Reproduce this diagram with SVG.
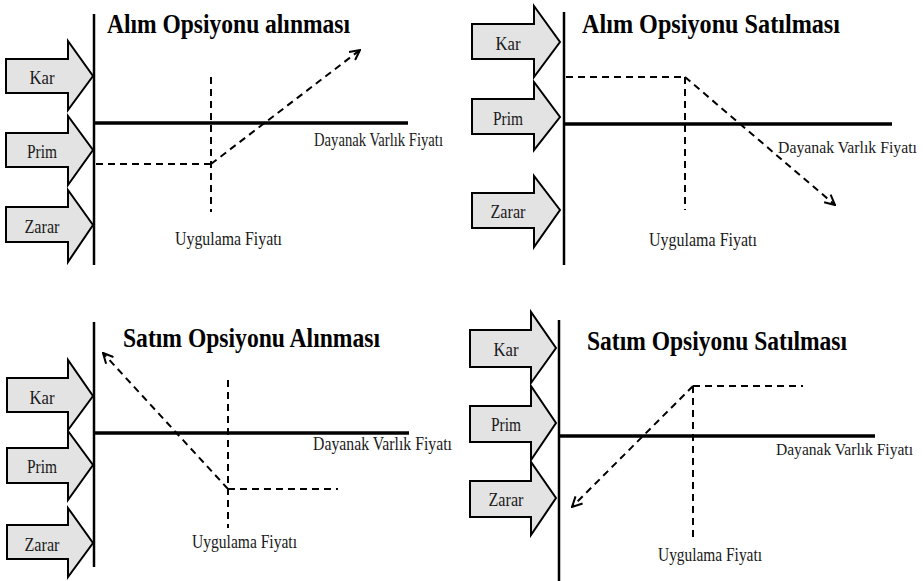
<svg xmlns="http://www.w3.org/2000/svg" width="923" height="581" viewBox="0 0 923 581" font-family="'Liberation Serif', 'DejaVu Serif', serif">
<style>
.bg{fill:#ffffff}
.blk{fill:#e3e3e3;stroke:#000;stroke-width:2;stroke-linejoin:miter}
.lbl{font-family:'Liberation Serif','DejaVu Serif','Times New Roman',serif;font-size:19px;fill:#1a1a1a;text-anchor:middle}
.ttl{font-family:'Liberation Serif','DejaVu Serif','Times New Roman',serif;font-size:27px;font-weight:bold;fill:#000}
.ax{font-family:'Liberation Serif','DejaVu Serif','Times New Roman',serif;font-size:18px;fill:#1a1a1a}
.axr{font-size:16px}
.vax{stroke:#000;stroke-width:2.5;fill:none}
.hax{stroke:#000;stroke-width:3.5;fill:none}
.dash{stroke:#000;stroke-width:2;stroke-dasharray:7 5;fill:none}
</style>
<defs>
<marker id="chev" viewBox="0 0 12 12" refX="11" refY="6" markerWidth="12" markerHeight="12" markerUnits="userSpaceOnUse" orient="auto">
<path d="M1,1 L11,6 L1,11" fill="none" stroke="#000" stroke-width="2"/>
</marker>
</defs>
<rect class="bg" x="0" y="0" width="923" height="581"/>

<!-- Panel 1 -->
<g id="panel1">
<text class="ttl" x="107" y="33" textLength="243" lengthAdjust="spacingAndGlyphs">Alım Opsiyonu alınması</text>
<g id="p1-kar"><path class="blk" d="M6,59 H68 V41 L93,76 L68,110 V93 H6 Z"/><text class="lbl" x="42" y="84" textLength="25" lengthAdjust="spacingAndGlyphs">Kar</text></g>
<g id="p1-prim"><path class="blk" d="M6,133 H68 V116 L93,150 L68,185 V167 H6 Z"/><text class="lbl" x="42" y="158" textLength="30" lengthAdjust="spacingAndGlyphs">Prim</text></g>
<g id="p1-zarar"><path class="blk" d="M6,207 H68 V190 L93,225 L68,262 V242 H6 Z"/><text class="lbl" x="42" y="233" textLength="35" lengthAdjust="spacingAndGlyphs">Zarar</text></g>
<g id="p1-connectors">
<line class="vax" x1="94" y1="14" x2="94" y2="265"/>
<line class="hax" x1="94" y1="123" x2="408" y2="123"/>
<line class="dash" x1="211" y1="77" x2="211" y2="212"/>
<line class="dash" x1="96" y1="164" x2="211" y2="164"/>
<line class="dash" x1="211" y1="164" x2="360" y2="50" marker-end="url(#chev)"/>
</g>
<text class="ax" x="314" y="146" textLength="129" lengthAdjust="spacingAndGlyphs">Dayanak Varlık Fiyatı</text>
<text class="ax" x="175" y="245" textLength="107" lengthAdjust="spacingAndGlyphs">Uygulama Fiyatı</text>
</g>

<!-- Panel 2 -->
<g id="panel2">
<text class="ttl" x="582" y="33" textLength="258" lengthAdjust="spacingAndGlyphs">Alım Opsiyonu Satılması</text>
<g id="p2-kar"><path class="blk" d="M472,24 H534 V6 L560,42 L534,77 V59 H472 Z"/><text class="lbl" x="508" y="50" textLength="25" lengthAdjust="spacingAndGlyphs">Kar</text></g>
<g id="p2-prim"><path class="blk" d="M472,99 H534 V82 L560,117 L534,150 V134 H472 Z"/><text class="lbl" x="508" y="125" textLength="30" lengthAdjust="spacingAndGlyphs">Prim</text></g>
<g id="p2-zarar"><path class="blk" d="M472,193 H534 V176 L560,210 L534,247 V228 H472 Z"/><text class="lbl" x="508" y="218" textLength="35" lengthAdjust="spacingAndGlyphs">Zarar</text></g>
<g id="p2-connectors">
<line class="vax" x1="564" y1="12" x2="564" y2="265"/>
<line class="hax" x1="564" y1="124" x2="892" y2="124"/>
<line class="dash" x1="566" y1="77" x2="685" y2="77"/>
<line class="dash" x1="685" y1="77" x2="685" y2="210"/>
<line class="dash" x1="685" y1="77" x2="835" y2="205" marker-end="url(#chev)"/>
</g>
<text class="ax axr" x="778" y="153" textLength="139" lengthAdjust="spacingAndGlyphs">Dayanak Varlık Fiyatı</text>
<text class="ax" x="649" y="246" textLength="108" lengthAdjust="spacingAndGlyphs">Uygulama Fiyatı</text>
</g>

<!-- Panel 3 -->
<g id="panel3">
<text class="ttl" x="123" y="347" textLength="257" lengthAdjust="spacingAndGlyphs">Satım Opsiyonu Alınması</text>
<g id="p3-kar"><path class="blk" d="M7,378 H68 V360 L93,396 L68,430 V412 H7 Z"/><text class="lbl" x="42" y="404" textLength="25" lengthAdjust="spacingAndGlyphs">Kar</text></g>
<g id="p3-prim"><path class="blk" d="M7,448 H68 V431 L93,465 L68,500 V483 H7 Z"/><text class="lbl" x="42" y="473" textLength="30" lengthAdjust="spacingAndGlyphs">Prim</text></g>
<g id="p3-zarar"><path class="blk" d="M7,525 H68 V508 L93,543 L68,577 V559 H7 Z"/><text class="lbl" x="42" y="551" textLength="35" lengthAdjust="spacingAndGlyphs">Zarar</text></g>
<g id="p3-connectors">
<line class="vax" x1="94" y1="322" x2="94" y2="567"/>
<line class="hax" x1="94" y1="433" x2="409" y2="433"/>
<line class="dash" x1="228" y1="380" x2="228" y2="528"/>
<line class="dash" x1="228" y1="489" x2="338" y2="489"/>
<line class="dash" x1="228" y1="489" x2="103" y2="353" marker-end="url(#chev)"/>
</g>
<text class="ax" x="313" y="450" textLength="139" lengthAdjust="spacingAndGlyphs">Dayanak Varlık Fiyatı</text>
<text class="ax" x="192" y="548" textLength="105" lengthAdjust="spacingAndGlyphs">Uygulama Fiyatı</text>
</g>

<!-- Panel 4 -->
<g id="panel4">
<text class="ttl" x="587" y="350" textLength="260" lengthAdjust="spacingAndGlyphs">Satım Opsiyonu Satılması</text>
<g id="p4-kar"><path class="blk" d="M470,330 H531 V312 L556,348 L531,383 V367 H470 Z"/><text class="lbl" x="506" y="356" textLength="25" lengthAdjust="spacingAndGlyphs">Kar</text></g>
<g id="p4-prim"><path class="blk" d="M470,406 H531 V386 L556,423 L531,460 V442 H470 Z"/><text class="lbl" x="506" y="431" textLength="30" lengthAdjust="spacingAndGlyphs">Prim</text></g>
<g id="p4-zarar"><path class="blk" d="M470,481 H531 V462 L556,498 L531,535 V517 H470 Z"/><text class="lbl" x="506" y="506" textLength="35" lengthAdjust="spacingAndGlyphs">Zarar</text></g>
<g id="p4-connectors">
<line class="vax" x1="559" y1="320" x2="559" y2="581"/>
<line class="hax" x1="559" y1="436" x2="875" y2="436"/>
<line class="dash" x1="693" y1="386" x2="803" y2="386"/>
<line class="dash" x1="693" y1="386" x2="693" y2="540"/>
<line class="dash" x1="693" y1="386" x2="572" y2="507" marker-end="url(#chev)"/>
</g>
<text class="ax axr" x="776" y="455" textLength="137" lengthAdjust="spacingAndGlyphs">Dayanak Varlık Fiyatı</text>
<text class="ax" x="658" y="561" textLength="104" lengthAdjust="spacingAndGlyphs">Uygulama Fiyatı</text>
</g>
</svg>
